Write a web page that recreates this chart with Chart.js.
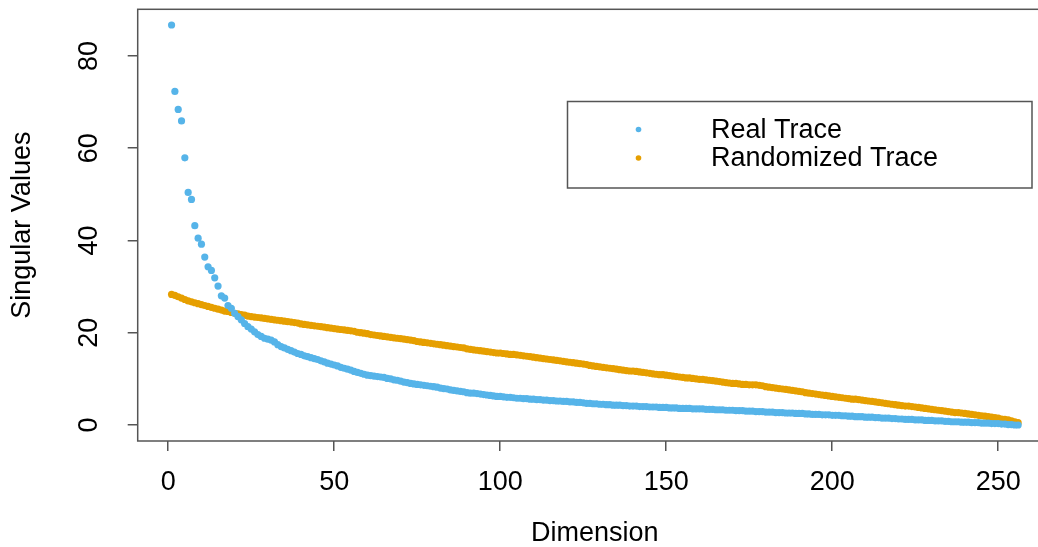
<html>
<head>
<script src="https://cdn.jsdelivr.net/npm/chart.js@4.4.0/dist/chart.umd.min.js"></script>
<style>
  body { margin: 0; background: #fff; overflow: hidden; }
</style>
</head>
<body>
<!-- the canvas is a little wider than the window: the plot box runs past the right edge, as in the original -->
<canvas id="canvas" width="1056" height="547"></canvas>
<script>
// singular values, dimension 1..256
var realTrace = [
  86.7, 72.3, 68.4, 65.9, 57.9, 50.4, 48.9, 43.2, 40.5, 39.2,
  36.4, 34.3, 33.5, 31.9, 30.1, 28.0, 27.5, 25.9, 25.3, 24.2,
  23.5, 22.8, 22.0, 21.3, 20.8, 20.2, 19.6, 19.2, 18.8, 18.6,
  18.4, 18.0, 17.4, 17.0, 16.7, 16.4, 16.1, 15.8, 15.5, 15.3,
  15.0, 14.8, 14.6, 14.4, 14.2, 13.9, 13.7, 13.4, 13.2, 13.0,
  12.8, 12.5, 12.3, 12.1, 11.9, 11.6, 11.4, 11.2, 11.0, 10.8,
  10.7, 10.6, 10.5, 10.4, 10.3, 10.1, 10.0, 9.8, 9.7, 9.5,
  9.3, 9.2, 9.0, 8.9, 8.8, 8.7, 8.6, 8.5, 8.4, 8.3,
  8.2, 8.0, 7.9, 7.8, 7.6, 7.5, 7.4, 7.3, 7.2, 7.0,
  6.9, 6.9, 6.8, 6.7, 6.6, 6.5, 6.4, 6.3, 6.2, 6.2,
  6.1, 6.0, 6.0, 5.9, 5.8, 5.8, 5.7, 5.7, 5.6, 5.6,
  5.5, 5.5, 5.4, 5.4, 5.3, 5.3, 5.2, 5.2, 5.1, 5.1,
  5.0, 5.0, 4.9, 4.9, 4.8, 4.7, 4.7, 4.6, 4.6, 4.5,
  4.5, 4.4, 4.4, 4.3, 4.3, 4.3, 4.2, 4.2, 4.1, 4.1,
  4.1, 4.0, 4.0, 4.0, 3.9, 3.9, 3.9, 3.8, 3.8, 3.8,
  3.7, 3.7, 3.7, 3.6, 3.6, 3.6, 3.6, 3.5, 3.5, 3.5,
  3.5, 3.4, 3.4, 3.4, 3.3, 3.3, 3.3, 3.2, 3.2, 3.2,
  3.1, 3.1, 3.1, 3.0, 3.0, 3.0, 2.9, 2.9, 2.9, 2.8,
  2.8, 2.8, 2.7, 2.7, 2.7, 2.6, 2.6, 2.6, 2.5, 2.5,
  2.5, 2.4, 2.4, 2.3, 2.3, 2.3, 2.2, 2.2, 2.2, 2.1,
  2.1, 2.1, 2.0, 2.0, 1.9, 1.9, 1.8, 1.8, 1.8, 1.7,
  1.7, 1.7, 1.6, 1.6, 1.5, 1.5, 1.5, 1.4, 1.4, 1.3,
  1.3, 1.2, 1.2, 1.2, 1.1, 1.1, 1.1, 1.0, 1.0, 1.0,
  0.9, 0.9, 0.9, 0.8, 0.8, 0.7, 0.7, 0.7, 0.6, 0.6,
  0.6, 0.5, 0.5, 0.5, 0.4, 0.4, 0.4, 0.3, 0.3, 0.3,
  0.2, 0.2, 0.1, 0.1, 0.0, 0.0
];
var randomTrace = [
  28.3, 28.1, 27.8, 27.5, 27.2, 26.9, 26.7, 26.5, 26.3, 26.1,
  25.9, 25.7, 25.5, 25.3, 25.1, 24.9, 24.7, 24.6, 24.4, 24.2,
  24.1, 23.9, 23.8, 23.6, 23.5, 23.4, 23.3, 23.2, 23.1, 23.0,
  22.9, 22.8, 22.7, 22.6, 22.5, 22.4, 22.3, 22.2, 22.1, 21.9,
  21.8, 21.7, 21.6, 21.5, 21.4, 21.3, 21.2, 21.1, 21.0, 20.9,
  20.8, 20.7, 20.6, 20.5, 20.4, 20.3, 20.1, 20.0, 19.9, 19.8,
  19.6, 19.5, 19.4, 19.3, 19.2, 19.1, 19.0, 18.9, 18.8, 18.7,
  18.6, 18.5, 18.4, 18.3, 18.1, 18.0, 17.9, 17.8, 17.7, 17.6,
  17.5, 17.4, 17.3, 17.2, 17.1, 17.0, 16.9, 16.8, 16.7, 16.5,
  16.4, 16.3, 16.2, 16.1, 16.0, 15.9, 15.8, 15.7, 15.6, 15.6,
  15.5, 15.4, 15.3, 15.3, 15.2, 15.1, 15.0, 14.9, 14.8, 14.7,
  14.6, 14.5, 14.4, 14.3, 14.2, 14.1, 14.0, 13.9, 13.8, 13.7,
  13.6, 13.5, 13.4, 13.3, 13.2, 13.1, 12.9, 12.8, 12.7, 12.6,
  12.5, 12.4, 12.3, 12.2, 12.1, 12.0, 11.9, 11.8, 11.7, 11.7,
  11.6, 11.5, 11.4, 11.3, 11.2, 11.1, 11.0, 10.9, 10.9, 10.8,
  10.7, 10.6, 10.5, 10.4, 10.3, 10.2, 10.2, 10.1, 10.0, 9.9,
  9.9, 9.8, 9.7, 9.6, 9.5, 9.4, 9.3, 9.2, 9.1, 9.0,
  9.0, 8.9, 8.8, 8.8, 8.7, 8.7, 8.7, 8.6, 8.5, 8.3,
  8.2, 8.1, 8.0, 7.9, 7.8, 7.7, 7.6, 7.5, 7.4, 7.3,
  7.2, 7.0, 6.9, 6.8, 6.7, 6.6, 6.5, 6.4, 6.3, 6.2,
  6.1, 6.0, 5.9, 5.8, 5.7, 5.6, 5.6, 5.5, 5.4, 5.3,
  5.2, 5.1, 5.0, 4.9, 4.8, 4.7, 4.6, 4.5, 4.4, 4.3,
  4.2, 4.1, 4.1, 4.0, 3.9, 3.8, 3.7, 3.6, 3.5, 3.4,
  3.3, 3.2, 3.1, 3.0, 2.9, 2.8, 2.7, 2.7, 2.6, 2.5,
  2.4, 2.3, 2.2, 2.1, 2.0, 1.9, 1.8, 1.7, 1.6, 1.5,
  1.3, 1.2, 1.1, 0.9, 0.7, 0.5
];
var xTicks = [0, 50, 100, 150, 200, 250];
var yTicks = [0, 20, 40, 60, 80];
var seriesNames = ['Real Trace', 'Randomized Trace'];
var seriesColors = ['#56B4E9', '#E69F00'];

var FONT = '"Liberation Sans", Arial, Helvetica, sans-serif';

function toPoints(vals) {
  return vals.map(function(v, i) { return { x: i + 1, y: v }; });
}

// box, rotated y labels and legend, R style
var rPlot = {
  id: 'rPlot',
  afterDraw: function(chart) {
    var ctx = chart.ctx, a = chart.chartArea;
    var ys = chart.scales.y;
    ctx.save();
    ctx.strokeStyle = '#555';
    ctx.lineWidth = 1.5;
    ctx.strokeRect(a.left, a.top, a.right - a.left, a.bottom - a.top);

    ctx.fillStyle = '#000';
    ctx.font = '27px ' + FONT;
    ctx.textAlign = 'center';
    ctx.textBaseline = 'middle';
    yTicks.forEach(function(t) {
      ctx.save();
      ctx.translate(90, ys.getPixelForValue(t));
      ctx.rotate(-Math.PI / 2);
      ctx.fillText(String(t), 0, 0);
      ctx.restore();
    });

    // legend
    ctx.strokeStyle = '#555';
    ctx.lineWidth = 1.5;
    ctx.strokeRect(567.5, 101.5, 464.5, 86.5);
    ctx.font = '27px ' + FONT;
    ctx.textAlign = 'left';
    seriesNames.forEach(function(name, i) {
      var y = 129.5 + i * 28.5;
      ctx.fillStyle = seriesColors[i];
      ctx.beginPath();
      ctx.arc(638.5, y, 2.8, 0, Math.PI * 2);
      ctx.fill();
      ctx.fillStyle = '#000';
      ctx.fillText(name, 711, y + 1);
    });
    ctx.restore();
  }
};

var ctx = document.getElementById('canvas').getContext('2d');
var chart = new Chart(ctx, {
  type: 'scatter',
  data: {
    datasets: [{
      label: seriesNames[0],
      data: toPoints(realTrace),
      backgroundColor: seriesColors[0],
      borderWidth: 0,
      pointRadius: 3.6
    }, {
      label: seriesNames[1],
      data: toPoints(randomTrace),
      backgroundColor: seriesColors[1],
      borderWidth: 0,
      pointRadius: 3.6
    }]
  },
  options: {
    responsive: false,
    animation: false,
    devicePixelRatio: 1,
    layout: { padding: { top: 9.3, right: 3, left: 0, bottom: 0 } },
    plugins: { legend: { display: false }, tooltip: { enabled: false } },
    scales: {
      x: {
        type: 'linear',
        min: -9.2,
        max: 266.2,
        afterFit: function(s) { s.height = 106; },
        afterBuildTicks: function(s) { s.ticks = xTicks.map(function(v) { return { value: v }; }); },
        border: { display: false },
        grid: { drawOnChartArea: false, drawTicks: true, tickLength: 10, color: '#555', lineWidth: 1.5 },
        ticks: { color: '#000', font: { family: FONT, size: 27 }, padding: 15, maxRotation: 0, autoSkip: false },
        title: { display: true, text: 'Dimension', color: '#000', font: { family: FONT, size: 27, lineHeight: 1 }, padding: { top: 0, bottom: 0 } }
      },
      y: {
        type: 'linear',
        min: -3.47,
        max: 90.1,
        afterFit: function(s) { s.width = 137.7; },
        afterBuildTicks: function(s) { s.ticks = yTicks.map(function(v) { return { value: v }; }); },
        border: { display: false },
        grid: { drawOnChartArea: false, drawTicks: true, tickLength: 10, color: '#555', lineWidth: 1.5 },
        ticks: { display: false },
        title: { display: true, text: 'Singular Values', color: '#000', font: { family: FONT, size: 27, lineHeight: 1 }, padding: { top: 9.5, bottom: 0 } }
      }
    }
  },
  plugins: [rPlot]
});
</script>
</body>
</html>
